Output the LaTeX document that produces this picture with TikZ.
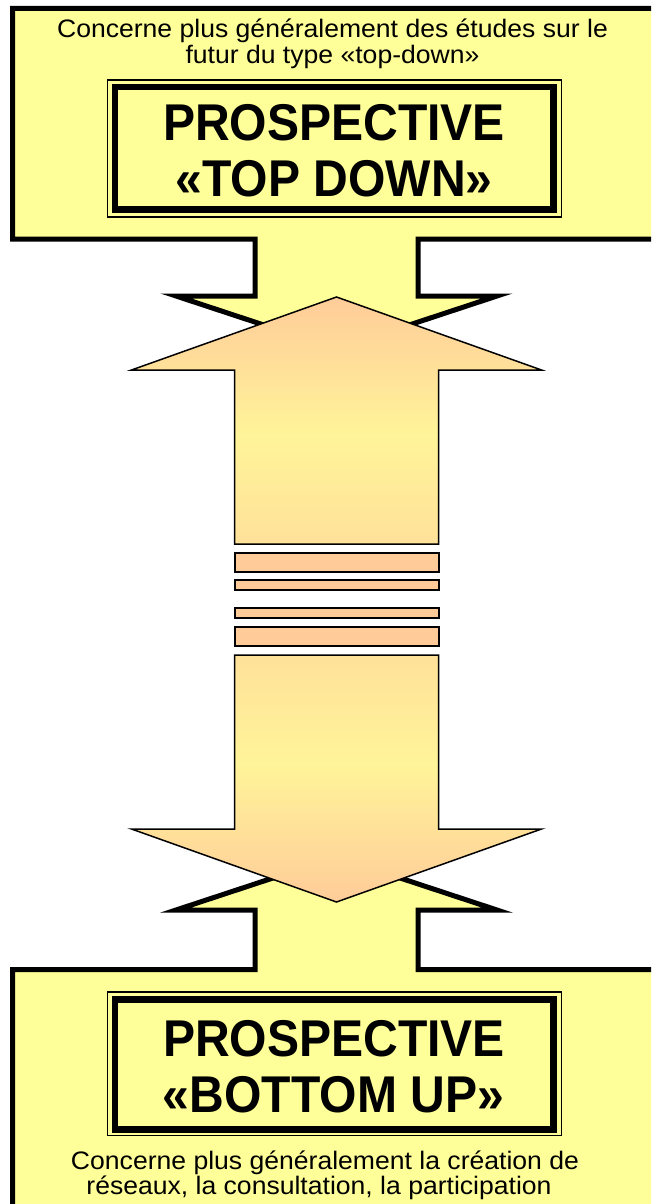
\documentclass[tikz,border=0pt]{standalone}
\usepackage{fontspec}
\setmainfont{Liberation Sans}
\newfontfamily\smallfont[FakeStretch=1.05]{Liberation Sans}
\newfontfamily\titlefont[FakeStretch=0.93]{Liberation Sans}
\definecolor{calloutyellow}{HTML}{FFFF99}
\definecolor{peach}{HTML}{FFCC99}
\definecolor{paleorange}{HTML}{FFE199}
\definecolor{paleyellow}{HTML}{FFF499}
\pgfdeclareverticalshading{upshade}{100bp}{color(0bp)=(paleorange); color(25bp)=(paleorange); color(47bp)=(paleyellow); color(75bp)=(peach); color(100bp)=(peach)}
\pgfdeclareverticalshading{downshade}{100bp}{color(0bp)=(peach); color(25bp)=(peach); color(53bp)=(paleyellow); color(75bp)=(paleorange); color(100bp)=(paleorange)}
\tikzset{
  callout/.style={fill=calloutyellow, draw=black, line width=5pt, line join=miter},
  bigarrow/.style={draw=black, line width=1.5pt, line join=miter},
  stripe/.style={fill=peach, draw=black, line width=2pt},
  framethick/.style={draw=black, line width=6.5pt},
  framethin/.style={draw=black, line width=1.2pt},
  smalltext/.style={font=\smallfont\fontsize{25.3}{26}\selectfont, anchor=base, inner sep=0pt},
  titletext/.style={font=\titlefont\bfseries\fontsize{51.7}{56}\selectfont, anchor=base, inner sep=0pt},
}
\begin{document}
\begin{tikzpicture}[x=1pt, y=-1pt]
\clip (0,0) rectangle (651,1204);
\fill[white] (0,0) rectangle (651,1204);
% top callout
\draw[callout] (12.5,8.5) -- (720,8.5) -- (720,239) -- (418,239) -- (418,296) -- (497,296)
  -- (336.5,349) -- (176,296) -- (255,296) -- (255,239) -- (12.5,239) -- cycle;
% bottom callout
\draw[callout] (12.5,1260) -- (12.5,969.5) -- (255,969.5) -- (255,910) -- (176,910)
  -- (336.5,857) -- (497,910) -- (418,910) -- (418,969.5) -- (720,969.5) -- (720,1260) -- cycle;
% upward arrow
\shadedraw[shading=upshade, bigarrow] (336.5,297) -- (541.5,370) -- (438.5,370) -- (438.5,544)
  -- (234.5,544) -- (234.5,370) -- (131.5,370) -- cycle;
% stripes
\draw[stripe] (234.5,553.3) rectangle (438.5,571.7);
\draw[stripe] (234.5,580) rectangle (438.5,590);
\draw[stripe] (234.5,608.3) rectangle (438.5,618.3);
\draw[stripe] (234.5,626.7) rectangle (438.5,646);
% downward arrow
\shadedraw[shading=downshade, bigarrow] (234.5,655) -- (438.5,655) -- (438.5,829) -- (541.5,829)
  -- (336.5,902) -- (131.5,829) -- (234.5,829) -- cycle;
% title frames
\draw[framethin] (107.5,80) rectangle (561.5,217);
\draw[framethick] (115,87) rectangle (553.5,209.5);
\draw[framethin] (107.5,992) rectangle (561.5,1135.5);
\draw[framethick] (115,999.5) rectangle (553.5,1129.5);
% texts
\node[smalltext] (topline1) at (332.5,38) {Concerne plus généralement des études sur le};
\node[smalltext] (topline2) at (332.5,64) {futur du type «top-down»};
\node[titletext] (toptitle1) at (334,140) {PROSPECTIVE};
\node[titletext] (toptitle2) at (334,196) {«TOP DOWN»};
\node[titletext] (bottitle1) at (334,1056.5) {PROSPECTIVE};
\node[titletext] (bottitle2) at (333.5,1112.5) {«BOTTOM UP»};
\node[smalltext] (botline1) at (325,1169) {Concerne plus généralement la création de};
\node[smalltext] (botline2) at (319,1194) {réseaux, la consultation, la participation};
\end{tikzpicture}
\end{document}
